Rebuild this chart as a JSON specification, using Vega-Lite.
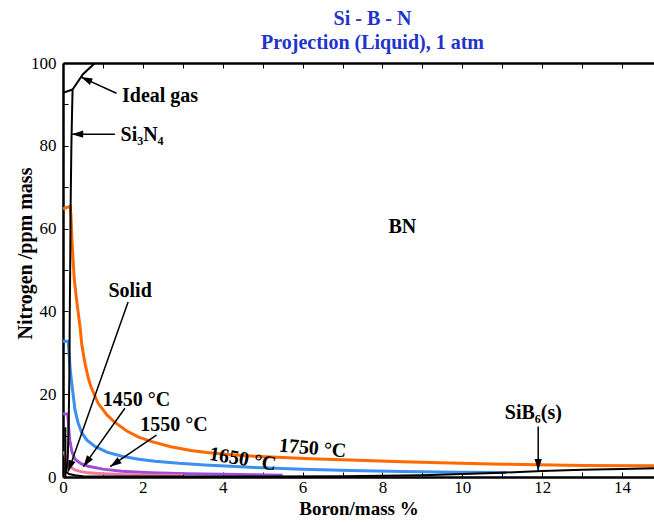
{
  "$schema": "https://vega.github.io/schema/vega-lite/v6.json",
  "width": 591,
  "height": 414,
  "autosize": {"type": "none"},
  "padding": {"left": 63, "top": 63, "right": 0, "bottom": 47},
  "background": "white",
  "config": {"view": {"stroke": null}, "font": "Liberation Serif, Times New Roman, serif"},
  "title": {
    "text": ["Si - B - N", "Projection (Liquid), 1 atm"],
    "color": "#2233cc",
    "font": "Liberation Serif, Times New Roman, serif",
    "fontSize": 20,
    "fontWeight": "bold",
    "anchor": "middle",
    "offset": 1,
    "dx": 14,
    "lineHeight": 24
  },
  "datasets": {
    "curves": [
      {"series": "1750", "i": 0, "x": 0, "y": 64.8},
      {"series": "1750", "i": 1, "x": 0.18, "y": 65.4},
      {"series": "1750", "i": 2, "x": 0.2, "y": 63},
      {"series": "1750", "i": 3, "x": 0.22, "y": 58},
      {"series": "1750", "i": 4, "x": 0.25, "y": 53},
      {"series": "1750", "i": 5, "x": 0.28, "y": 48},
      {"series": "1750", "i": 6, "x": 0.34, "y": 42.8},
      {"series": "1750", "i": 7, "x": 0.43, "y": 36},
      {"series": "1750", "i": 8, "x": 0.47, "y": 32},
      {"series": "1750", "i": 9, "x": 0.55, "y": 27.5},
      {"series": "1750", "i": 10, "x": 0.63, "y": 24},
      {"series": "1750", "i": 11, "x": 0.7, "y": 21.8},
      {"series": "1750", "i": 12, "x": 0.88, "y": 17.8},
      {"series": "1750", "i": 13, "x": 1.1, "y": 15},
      {"series": "1750", "i": 14, "x": 1.3, "y": 13.2},
      {"series": "1750", "i": 15, "x": 1.6, "y": 11.1},
      {"series": "1750", "i": 16, "x": 1.88, "y": 9.7},
      {"series": "1750", "i": 17, "x": 2.2, "y": 8.6},
      {"series": "1750", "i": 18, "x": 2.7, "y": 7.3},
      {"series": "1750", "i": 19, "x": 3.2, "y": 6.4},
      {"series": "1750", "i": 20, "x": 3.6, "y": 5.9},
      {"series": "1750", "i": 21, "x": 4.2, "y": 5.4},
      {"series": "1750", "i": 22, "x": 4.8, "y": 5.0},
      {"series": "1750", "i": 23, "x": 5.5, "y": 4.7},
      {"series": "1750", "i": 24, "x": 6.2, "y": 4.4},
      {"series": "1750", "i": 25, "x": 7.2, "y": 4.1},
      {"series": "1750", "i": 26, "x": 8.5, "y": 3.7},
      {"series": "1750", "i": 27, "x": 9.7, "y": 3.4},
      {"series": "1750", "i": 28, "x": 11, "y": 3.1},
      {"series": "1750", "i": 29, "x": 11.9, "y": 2.95},
      {"series": "1750", "i": 30, "x": 13, "y": 2.8},
      {"series": "1750", "i": 31, "x": 14.8, "y": 2.7},
      {"series": "1650", "i": 0, "x": 0, "y": 32.8},
      {"series": "1650", "i": 1, "x": 0.13, "y": 32.8},
      {"series": "1650", "i": 2, "x": 0.15, "y": 30},
      {"series": "1650", "i": 3, "x": 0.18, "y": 26},
      {"series": "1650", "i": 4, "x": 0.22, "y": 22.6},
      {"series": "1650", "i": 5, "x": 0.3, "y": 16.2},
      {"series": "1650", "i": 6, "x": 0.38, "y": 13},
      {"series": "1650", "i": 7, "x": 0.47, "y": 10.7},
      {"series": "1650", "i": 8, "x": 0.6, "y": 8.9},
      {"series": "1650", "i": 9, "x": 0.8, "y": 7.4},
      {"series": "1650", "i": 10, "x": 1.1, "y": 6.0},
      {"series": "1650", "i": 11, "x": 1.47, "y": 5.0},
      {"series": "1650", "i": 12, "x": 1.9, "y": 4.3},
      {"series": "1650", "i": 13, "x": 2.3, "y": 3.8},
      {"series": "1650", "i": 14, "x": 2.9, "y": 3.3},
      {"series": "1650", "i": 15, "x": 3.55, "y": 2.9},
      {"series": "1650", "i": 16, "x": 4.2, "y": 2.6},
      {"series": "1650", "i": 17, "x": 4.8, "y": 2.3},
      {"series": "1650", "i": 18, "x": 6, "y": 1.9},
      {"series": "1650", "i": 19, "x": 7.2, "y": 1.6},
      {"series": "1650", "i": 20, "x": 8.5, "y": 1.35},
      {"series": "1650", "i": 21, "x": 9.9, "y": 1.15},
      {"series": "1650", "i": 22, "x": 11.1, "y": 1.1},
      {"series": "1550", "i": 0, "x": 0, "y": 15.3},
      {"series": "1550", "i": 1, "x": 0.12, "y": 15.2},
      {"series": "1550", "i": 2, "x": 0.14, "y": 12},
      {"series": "1550", "i": 3, "x": 0.17, "y": 8.9},
      {"series": "1550", "i": 4, "x": 0.22, "y": 6.2},
      {"series": "1550", "i": 5, "x": 0.3, "y": 4.3},
      {"series": "1550", "i": 6, "x": 0.45, "y": 3.2},
      {"series": "1550", "i": 7, "x": 0.63, "y": 2.6},
      {"series": "1550", "i": 8, "x": 1.0, "y": 1.9},
      {"series": "1550", "i": 9, "x": 1.47, "y": 1.4},
      {"series": "1550", "i": 10, "x": 2.2, "y": 1.05},
      {"series": "1550", "i": 11, "x": 3.1, "y": 0.8},
      {"series": "1550", "i": 12, "x": 4, "y": 0.65},
      {"series": "1550", "i": 13, "x": 4.8, "y": 0.55},
      {"series": "1550", "i": 14, "x": 5.5, "y": 0.45},
      {"series": "1450", "i": 0, "x": 0.03, "y": 6.2},
      {"series": "1450", "i": 1, "x": 0.06, "y": 5.0},
      {"series": "1450", "i": 2, "x": 0.1, "y": 3.6},
      {"series": "1450", "i": 3, "x": 0.17, "y": 2.5},
      {"series": "1450", "i": 4, "x": 0.3, "y": 1.7},
      {"series": "1450", "i": 5, "x": 0.45, "y": 1.3},
      {"series": "1450", "i": 6, "x": 0.63, "y": 1.0},
      {"series": "1450", "i": 7, "x": 1.0, "y": 0.8},
      {"series": "1450", "i": 8, "x": 1.47, "y": 0.6},
      {"series": "1450", "i": 9, "x": 2.2, "y": 0.45},
      {"series": "1450", "i": 10, "x": 3.0, "y": 0.35}
    ],
    "bounds": [
      {"series": "gas", "i": 0, "x": 0, "y": 92.8},
      {"series": "gas", "i": 1, "x": 0.24, "y": 93.6},
      {"series": "ideal", "i": 0, "x": 0.24, "y": 93.6},
      {"series": "ideal", "i": 1, "x": 0.5, "y": 97.3},
      {"series": "ideal", "i": 2, "x": 0.8, "y": 100},
      {"series": "si3n4", "i": 0, "x": 0.24, "y": 93.6},
      {"series": "si3n4", "i": 1, "x": 0.22, "y": 85},
      {"series": "si3n4", "i": 2, "x": 0.21, "y": 80},
      {"series": "si3n4", "i": 3, "x": 0.19, "y": 65},
      {"series": "si3n4", "i": 4, "x": 0.18, "y": 50},
      {"series": "si3n4", "i": 5, "x": 0.17, "y": 40},
      {"series": "si3n4", "i": 6, "x": 0.16, "y": 25},
      {"series": "si3n4", "i": 7, "x": 0.14, "y": 12},
      {"series": "si3n4", "i": 8, "x": 0.12, "y": 5},
      {"series": "si3n4", "i": 9, "x": 0.1, "y": 2.5},
      {"series": "si3n4", "i": 10, "x": 0.08, "y": 1.2},
      {"series": "sib6", "i": 0, "x": 0.08, "y": 1.2},
      {"series": "sib6", "i": 1, "x": 0.15, "y": 0.7},
      {"series": "sib6", "i": 2, "x": 0.3, "y": 0.4},
      {"series": "sib6", "i": 3, "x": 0.5, "y": 0.2},
      {"series": "sib6", "i": 4, "x": 1, "y": 0.1},
      {"series": "sib6", "i": 5, "x": 3, "y": 0.1},
      {"series": "sib6", "i": 6, "x": 5, "y": 0.15},
      {"series": "sib6", "i": 7, "x": 7, "y": 0.2},
      {"series": "sib6", "i": 8, "x": 8, "y": 0.3},
      {"series": "sib6", "i": 9, "x": 9, "y": 0.45},
      {"series": "sib6", "i": 10, "x": 10, "y": 0.7},
      {"series": "sib6", "i": 11, "x": 11, "y": 1.05},
      {"series": "sib6", "i": 12, "x": 12, "y": 1.45},
      {"series": "sib6", "i": 13, "x": 13, "y": 1.75},
      {"series": "sib6", "i": 14, "x": 14, "y": 1.95},
      {"series": "sib6", "i": 15, "x": 14.8, "y": 2.1},
      {"series": "solid", "i": 0, "x": 0.06, "y": 0},
      {"series": "solid", "i": 1, "x": 0.06, "y": 12}
    ],
    "arrows": [
      {"name": "Solid", "fx": 1.63, "fy": 42.3, "tx": 0.13, "ty": 1.3},
      {"name": "1450", "fx": 1.55, "fy": 16.6, "tx": 0.51, "ty": 2.5},
      {"name": "1550", "fx": 2.34, "fy": 10.1, "tx": 1.18, "ty": 2.5},
      {"name": "Si3N4", "fx": 1.3, "fy": 82.8, "tx": 0.22, "ty": 82.8},
      {"name": "Ideal gas", "fx": 1.34, "fy": 92.7, "tx": 0.45, "ty": 96.6},
      {"name": "SiB6", "fx": 11.9, "fy": 12.2, "tx": 11.9, "ty": 1.6}
    ],
    "labels": [
      {"text": "Ideal gas", "x": 2.43, "y": 92.0},
      {"text": "Si₃N₄", "x": 1.98, "y": 82.6},
      {"text": "BN", "x": 8.5, "y": 60.3},
      {"text": "Solid", "x": 1.68, "y": 45.0},
      {"text": "1450 °C", "x": 1.84, "y": 18.6},
      {"text": "1550 °C", "x": 2.78, "y": 12.6},
      {"text": "SiB₆(s)", "x": 11.78, "y": 15.5}
    ],
    "label1650": [{"text": "1650 °C", "x": 4.5, "y": 4.3}],
    "label1750": [{"text": "1750 °C", "x": 6.25, "y": 6.9}]
  },
  "layer": [
    {
      "data": {"name": "curves"},
      "mark": {"type": "line", "strokeWidth": 3, "clip": true},
      "encoding": {
        "x": {
          "field": "x", "type": "quantitative",
          "scale": {"domain": [0, 14.8], "nice": false, "zero": false},
          "axis": {
            "orient": "bottom",
            "values": [0,1,2,3,4,5,6,7,8,9,10,11,12,13,14],
            "labelExpr": "datum.value % 2 === 0 ? datum.label : ''",
            "grid": false,
            "tickSize": -5, "tickColor": "black", "tickWidth": 1,
            "domainColor": "black", "domainWidth": 2.5,
            "labelFont": "Liberation Serif, Times New Roman, serif", "labelFontSize": 17, "labelColor": "black",
            "labelPadding": 7, "labelFlush": false,
            "title": "Boron/mass %",
            "titleFont": "Liberation Serif, Times New Roman, serif", "titleFontSize": 19, "titleFontWeight": "bold", "titleColor": "black",
            "titlePadding": 4
          }
        },
        "y": {
          "field": "y", "type": "quantitative",
          "scale": {"domain": [0, 100], "nice": false, "zero": false},
          "axis": {
            "orient": "left",
            "values": [0,10,20,30,40,50,60,70,80,90,100],
            "labelExpr": "datum.value % 20 === 0 ? datum.label : ''",
            "grid": false,
            "tickSize": -5, "tickColor": "black", "tickWidth": 1,
            "domainColor": "black", "domainWidth": 2.5,
            "labelFont": "Liberation Serif, Times New Roman, serif", "labelFontSize": 17, "labelColor": "black",
            "labelPadding": 12, "labelFlush": false,
            "title": "Nitrogen /ppm mass",
            "titleFont": "Liberation Serif, Times New Roman, serif", "titleFontSize": 20, "titleFontWeight": "bold", "titleColor": "black",
            "titlePadding": -5,
            "titleY": 190
          }
        },
        "color": {
          "field": "series", "type": "nominal",
          "scale": {"domain": ["1450", "1550", "1650", "1750"], "range": ["#f27a9c", "#9b4fd8", "#3b8ff0", "#ff6a00"]},
          "legend": null
        },
        "order": {"field": "i", "type": "quantitative"}
      }
    },
    {
      "data": {"name": "bounds"},
      "mark": {"type": "line", "strokeWidth": 2, "color": "black", "clip": true},
      "encoding": {
        "x": {
          "field": "x", "type": "quantitative",
          "scale": {"domain": [0, 14.8], "nice": false, "zero": false},
          "axis": {
            "orient": "top",
            "values": [0,1,2,3,4,5,6,7,8,9,10,11,12,13,14],
            "labels": false, "grid": false, "title": null,
            "tickSize": -5, "tickColor": "black", "tickWidth": 1,
            "domainColor": "black", "domainWidth": 2.5
          }
        },
        "y": {
          "field": "y", "type": "quantitative",
          "scale": {"domain": [0, 100], "nice": false, "zero": false},
          "axis": null
        },
        "detail": {"field": "series", "type": "nominal"},
        "order": {"field": "i", "type": "quantitative"}
      }
    },
    {
      "data": {"name": "arrows"},
      "mark": {"type": "rule", "color": "black", "strokeWidth": 1.5},
      "encoding": {
        "x": {"field": "fx", "type": "quantitative", "scale": {"domain": [0, 14.8], "nice": false, "zero": false}, "axis": null},
        "y": {"field": "fy", "type": "quantitative", "scale": {"domain": [0, 100], "nice": false, "zero": false}, "axis": null},
        "x2": {"field": "tx"},
        "y2": {"field": "ty"}
      }
    },
    {
      "data": {"name": "arrows"},
      "transform": [
        {"calculate": "atan2((datum.tx - datum.fx) * 40, (datum.ty - datum.fy) * 4.14) * 180 / PI", "as": "ang"}
      ],
      "mark": {"type": "point", "shape": "M0,0L0.32,1L-0.32,1Z", "filled": true, "fill": "black", "stroke": null, "size": 520, "opacity": 1},
      "encoding": {
        "x": {"field": "tx", "type": "quantitative", "scale": {"domain": [0, 14.8], "nice": false, "zero": false}, "axis": null},
        "y": {"field": "ty", "type": "quantitative", "scale": {"domain": [0, 100], "nice": false, "zero": false}, "axis": null},
        "angle": {"field": "ang", "type": "quantitative", "scale": null}
      }
    },
    {
      "data": {"name": "labels"},
      "mark": {"type": "text", "font": "Liberation Serif, Times New Roman, serif", "fontSize": 20, "fontWeight": "bold", "color": "black", "align": "center", "baseline": "middle"},
      "encoding": {
        "x": {"field": "x", "type": "quantitative", "scale": {"domain": [0, 14.8], "nice": false, "zero": false}, "axis": null},
        "y": {"field": "y", "type": "quantitative", "scale": {"domain": [0, 100], "nice": false, "zero": false}, "axis": null},
        "text": {"field": "text"}
      }
    },
    {
      "data": {"name": "label1650"},
      "mark": {"type": "text", "font": "Liberation Serif, Times New Roman, serif", "fontSize": 20, "fontWeight": "bold", "color": "black", "align": "center", "baseline": "middle", "angle": 9},
      "encoding": {
        "x": {"field": "x", "type": "quantitative", "scale": {"domain": [0, 14.8], "nice": false, "zero": false}, "axis": null},
        "y": {"field": "y", "type": "quantitative", "scale": {"domain": [0, 100], "nice": false, "zero": false}, "axis": null},
        "text": {"field": "text"}
      }
    },
    {
      "data": {"name": "label1750"},
      "mark": {"type": "text", "font": "Liberation Serif, Times New Roman, serif", "fontSize": 20, "fontWeight": "bold", "color": "black", "align": "center", "baseline": "middle", "angle": 5},
      "encoding": {
        "x": {"field": "x", "type": "quantitative", "scale": {"domain": [0, 14.8], "nice": false, "zero": false}, "axis": null},
        "y": {"field": "y", "type": "quantitative", "scale": {"domain": [0, 100], "nice": false, "zero": false}, "axis": null},
        "text": {"field": "text"}
      }
    }
  ],
  "resolve": {"axis": {"x": "independent", "y": "independent"}}
}
